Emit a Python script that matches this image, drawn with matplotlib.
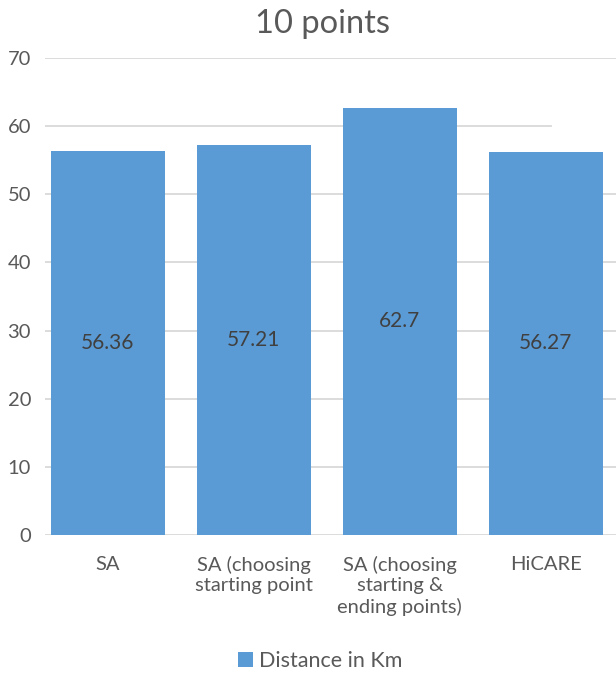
import matplotlib
matplotlib.use("Agg")
import matplotlib.pyplot as plt
import numpy as np

categories = ["SA", "SA (choosing\nstarting point", "SA (choosing\nstarting &\nending points)", "HiCARE"]
distances = [56.36, 57.21, 62.7, 56.27]
value_labels = ["56.36", "57.21", "62.7", "56.27"]
y_ticks = [0, 10, 20, 30, 40, 50, 60, 70]
series_name = "Distance in Km"

plt.rcParams["font.family"] = ["Lato", "DejaVu Sans"]

BAR = "#5B9BD5"
TEXT = "#595959"
GRID = "#D9D9D9"

fig = plt.figure(figsize=(6.16, 6.74), dpi=100)
ax = fig.add_axes([45 / 616, 1 - 535 / 674, 571 / 616, 477 / 674])

x = np.arange(len(categories))
bars = ax.bar(x, distances, width=0.78, color=BAR, zorder=3, label=series_name)
ax.bar_label(bars, labels=value_labels, label_type="center", fontsize=15, color="#404040")

ax.set_ylim(0, 70)
ax.set_xlim(-0.43, 3.48)
ax.set_yticks(y_ticks)
ax.set_xticks(x)
ax.set_xticklabels(categories, fontsize=14.5, color=TEXT, linespacing=1.25)
ax.tick_params(axis="y", labelsize=14.5, labelcolor=TEXT, length=0, pad=10)
ax.tick_params(axis="x", length=0, pad=15)

for t in y_ticks:
    ax.axhline(t, xmin=0, xmax=0.886 if t == 60 else 1.0, color=GRID, lw=1.3, zorder=1)

for s in ax.spines.values():
    s.set_visible(False)

fig.text(0.524, 1 - 24 / 674, "10 points", ha="center", va="center", fontsize=23.5, color=TEXT)

fig.legend(loc="center", bbox_to_anchor=(0.52, 1 - 661 / 674), frameon=False,
           fontsize=15.5, labelcolor=TEXT, handlelength=0.7, handleheight=0.7,
           handletextpad=0.3)

fig.savefig("out.png", dpi=100)
